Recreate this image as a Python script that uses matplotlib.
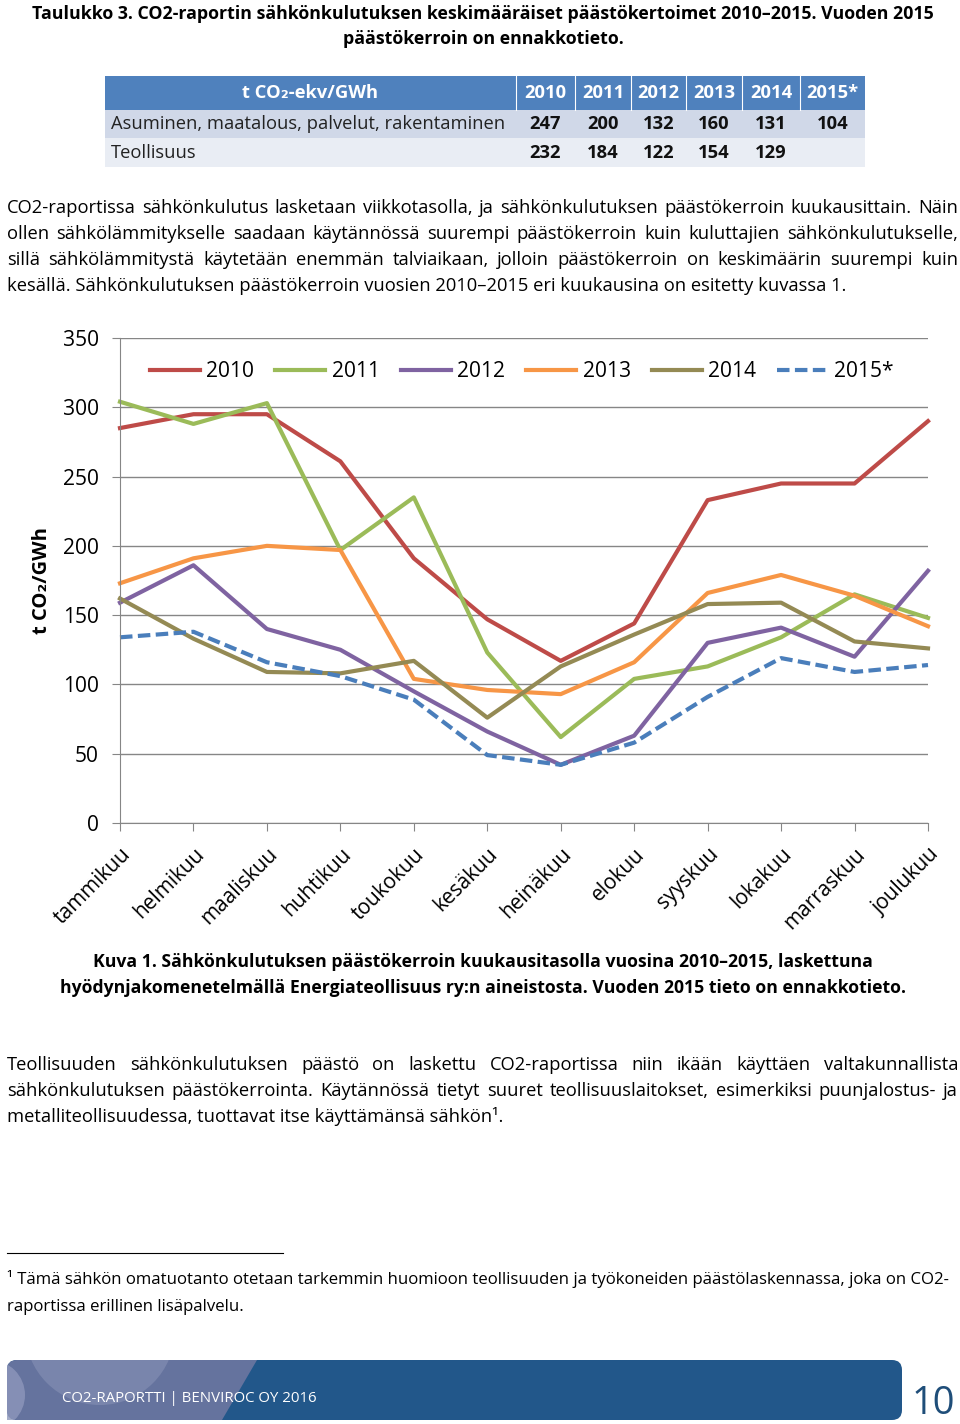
import numpy as np
import matplotlib
matplotlib.use("Agg")
import matplotlib.pyplot as plt
from matplotlib.patches import Rectangle, FancyBboxPatch, Polygon, Circle
from matplotlib.transforms import ScaledTranslation

plt.rcParams["font.family"] = ["Open Sans", "DejaVu Sans"]

# --- data ---
months = ["tammikuu", "helmikuu", "maaliskuu", "huhtikuu", "toukokuu", "kesäkuu",
          "heinäkuu", "elokuu", "syyskuu", "lokakuu", "marraskuu", "joulukuu"]
series_names = ["2010", "2011", "2012", "2013", "2014", "2015*"]
y2010 = [285, 295, 295, 261, 191, 147, 117, 144, 233, 245, 245, 290]
y2011 = [304, 288, 303, 197, 235, 123, 62, 104, 113, 134, 165, 148]
y2012 = [159, 186, 140, 125, 95, 66, 42, 63, 130, 141, 120, 182]
y2013 = [173, 191, 200, 197, 104, 96, 93, 116, 166, 179, 164, 142]
y2014 = [162, 133, 109, 108, 117, 76, 113, 136, 158, 159, 131, 126]
y2015 = [134, 138, 116, 106, 89, 49, 42, 58, 91, 119, 109, 114]
colors = ["#BE4B48", "#9BBB59", "#7F63A1", "#F79646", "#948A54", "#4A7EBB"]

table_head = "t CO₂-ekv/GWh"
table_cols = ["2010", "2011", "2012", "2013", "2014", "2015*"]
table_rows = ["Asuminen, maatalous, palvelut, rakentaminen", "Teollisuus"]
table_vals = [["247", "200", "132", "160", "131", "104"],
              ["232", "184", "122", "154", "129", ""]]

fig = plt.figure(figsize=(9.6, 14.24), dpi=100)
bg = fig.add_axes([0, 0, 1, 1])
bg.set_xlim(0, 960)
bg.set_ylim(1424, 0)
bg.axis("off")
R = fig.canvas.get_renderer()


def txt(x, y, s, px, **kw):
    return bg.text(x, y, s, fontsize=px * 0.72, **kw)


def fit(s, width, **kw):
    # font size in px that gives the string the wanted width
    t = txt(0, 0, s, 20, **kw)
    w = t.get_window_extent(R).width
    t.remove()
    return 20 * width / w


def justify(line, x0, x1, y, px, **kw):
    words = line.split()
    ts = [txt(0, y, w, px, va="baseline", **kw) for w in words]
    ws = [t.get_window_extent(R).width for t in ts]
    gap = (x1 - x0 - sum(ws)) / (len(words) - 1)
    x = x0
    for t, w in zip(ts, ws):
        t.set_x(x)
        x += w + gap


# --- title ---
title1 = "Taulukko 3. CO2-raportin sähkönkulutuksen keskimääräiset päästökertoimet 2010–2015. Vuoden 2015"
tsz = fit(title1, 903, weight="bold")
txt(483, 19, title1, tsz, weight="bold", ha="center", va="baseline")
txt(483, 44, "päästökerroin on ennakkotieto.", tsz, weight="bold", ha="center", va="baseline")

# --- table ---
edges = [105, 516, 575, 631, 686, 742, 800, 865]
rows_y = [76, 110, 138, 167]
row_fill = ["#4F81BD", "#D0D8E8", "#E9EDF4"]
for r in range(3):
    bg.add_patch(Rectangle((edges[0], rows_y[r]), edges[-1] - edges[0],
                           rows_y[r + 1] - rows_y[r], color=row_fill[r], lw=0))
for e in edges[1:-1]:
    bg.plot([e, e], [rows_y[0], rows_y[1]], color="white", lw=0.8)
ymid = [(rows_y[i] + rows_y[i + 1]) / 2 for i in range(3)]
tab = fit(table_rows[0], 394)
txt((edges[0] + edges[1]) / 2, ymid[0], table_head, tab, color="white", weight="bold",
    ha="center", va="center")
for j, c in enumerate(table_cols):
    cx = (edges[j + 1] + edges[j + 2]) / 2
    txt(cx, ymid[0], c, tab, color="white", weight="bold", ha="center", va="center")
for i, name in enumerate(table_rows):
    txt(111, ymid[i + 1], name, tab, color="#222222", ha="left", va="center")
    for j, v in enumerate(table_vals[i]):
        cx = (edges[j + 1] + edges[j + 2]) / 2
        txt(cx, ymid[i + 1], v, tab, color="#111111", weight="bold", ha="center", va="center")

# --- paragraph 1 ---
p1 = ["CO2-raportissa sähkönkulutus lasketaan viikkotasolla, ja sähkönkulutuksen päästökerroin kuukausittain. Näin",
      "ollen sähkölämmitykselle saadaan käytännössä suurempi päästökerroin kuin kuluttajien sähkönkulutukselle,",
      "sillä sähkölämmitystä käytetään enemmän talviaikaan, jolloin päästökerroin on keskimäärin suurempi kuin"]
p1_last = "kesällä. Sähkönkulutuksen päästökerroin vuosien 2010–2015 eri kuukausina on esitetty kuvassa 1."
body = fit(p1_last, 841)
for k, line in enumerate(p1):
    justify(line, 7, 958, 213 + 26 * k, body)
txt(7, 291, p1_last, body, va="baseline")

# --- chart ---
ax = fig.add_axes([120 / 960, 1 - 823 / 1424, 808 / 960, 485 / 1424])
x = np.arange(len(months))
for vals, c, name in zip([y2010, y2011, y2012, y2013, y2014, y2015], colors, series_names):
    kw = dict(dashes=(3, 1.3)) if name == "2015*" else {}
    ax.plot(x, vals, color=c, lw=3, label=name, clip_on=False, solid_joinstyle="round", **kw)
ax.set_xlim(0, len(months) - 1)
ax.set_ylim(0, 350)
ax.set_yticks(range(0, 351, 50))
ax.set_xticks(x)
xl = fit("tammikuu", 100) * 0.72
ax.set_xticklabels(months, rotation=45, ha="right", va="top", rotation_mode="anchor", fontsize=xl)
shift = ScaledTranslation(-4 / 100, 0, fig.dpi_scale_trans)
for lbl in ax.get_xticklabels():
    lbl.set_transform(lbl.get_transform() + shift)
ax.grid(axis="y", color="#868686", lw=1)
ax.set_axisbelow(True)
for s in ["top", "right"]:
    ax.spines[s].set_visible(False)
for s in ["left", "bottom"]:
    ax.spines[s].set_color("#868686")
yl = fit("350", 36) * 0.72
ax.tick_params(axis="both", length=6, color="#868686")
ax.tick_params(axis="y", pad=9, labelsize=yl)
ax.tick_params(axis="x", pad=9)
ax.legend(loc="center", bbox_to_anchor=(0.497, 0.93), ncol=6, frameon=False, fontsize=yl,
          handlelength=2.4, handletextpad=0.3, columnspacing=1.0)
txt(42, 581, "t CO₂/GWh", fit("t CO₂/GWh", 107, weight="bold"), weight="bold",
    rotation=90, ha="center", va="center")

# --- caption ---
cap1 = "Kuva 1. Sähkönkulutuksen päästökerroin kuukausitasolla vuosina 2010–2015, laskettuna"
cap2 = "hyödynjakomenetelmällä Energiateollisuus ry:n aineistosta. Vuoden 2015 tieto on ennakkotieto."
csz = fit(cap2, 847, weight="bold")
txt(483, 967, cap1, csz, weight="bold", ha="center", va="baseline")
txt(483, 993, cap2, csz, weight="bold", ha="center", va="baseline")

# --- paragraph 2 ---
p2 = ["Teollisuuden sähkönkulutuksen päästö on laskettu CO2-raportissa niin ikään käyttäen valtakunnallista",
      "sähkönkulutuksen päästökerrointa. Käytännössä tietyt suuret teollisuuslaitokset, esimerkiksi puunjalostus- ja"]
for k, line in enumerate(p2):
    justify(line, 7, 958, 1070 + 26 * k, body)
txt(7, 1122, "metalliteollisuudessa, tuottavat itse käyttämänsä sähkön¹.", body, va="baseline")

# --- footnote ---
bg.plot([7, 283], [1253, 1253], color="black", lw=0.8)
fn1 = "¹ Tämä sähkön omatuotanto otetaan tarkemmin huomioon teollisuuden ja työkoneiden päästölaskennassa, joka on CO2-"
fsz = fit(fn1, 943)
txt(7, 1284, fn1, fsz, va="baseline")
txt(7, 1311, "raportissa erillinen lisäpalvelu.", fsz, va="baseline")

# --- footer band ---
band = FancyBboxPatch((7, 1360), 895, 60, boxstyle="round,pad=0,rounding_size=10",
                      fc="#22578A", ec="none")
bg.add_patch(band)
left = Polygon([(7, 1360), (257, 1360), (222, 1420), (7, 1420)], closed=True, fc="#65739E", ec="none")
bg.add_patch(left)
left.set_clip_path(band)
for cx, cy, r, fc in [(100, 1330, 75, "#7F8AB0"), (-10, 1395, 35, "#8E97BB")]:
    c = Circle((cx, cy), r, fc=fc, ec="none", alpha=0.8)
    bg.add_patch(c)
    c.set_clip_path(left)
foot = "CO2-RAPORTTI | BENVIROC OY 2016"
txt(62, 1398, foot, fit(foot, 256), color="white", va="center")
txt(955, 1423, "10", 38, color="#1F4E79", ha="right", va="bottom")

fig.savefig("out.png", dpi=100)
